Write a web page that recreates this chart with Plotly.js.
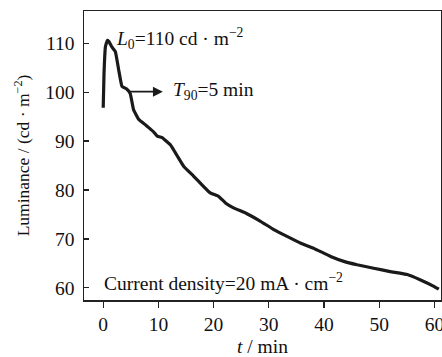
<!DOCTYPE html>
<html>
<head>
<meta charset="utf-8">
<script src="https://cdn.plot.ly/plotly-3.0.1.min.js"></script>
<style>html,body{margin:0;padding:0;background:#fff}#c{width:442px;height:357px}</style>
</head>
<body>
<div id="c"></div>
<script>
const timeMin = [0, 0.15, 0.4, 0.75, 1.0, 1.6, 2.2, 2.8, 3.4, 4.3, 4.9, 5.5, 6.45, 7.7, 8.6, 9.2, 9.8, 10.7, 11.0, 12.2, 13.4, 14.6, 16.4, 18.2, 19.4, 20.9, 22.2, 23.7, 25.8, 28.5, 30.9, 33.3, 35.8, 38.1, 41.2, 43.6, 46.0, 49.0, 52.0, 55.1, 57.5, 59.9, 60.8];
const luminance = [96.8, 104, 109.3, 110.6, 110.4, 109.2, 108.3, 104.6, 101.2, 100.6, 99.7, 96.4, 94.4, 93.3, 92.4, 91.8, 91.0, 90.7, 90.4, 89.2, 87.0, 84.8, 82.8, 80.7, 79.4, 78.7, 77.3, 76.3, 75.3, 73.6, 71.9, 70.5, 69.1, 68.1, 66.4, 65.4, 64.7, 64.0, 63.3, 62.7, 61.6, 60.3, 59.7];
const xTicks = [0, 10, 20, 30, 40, 50, 60];
const yTicks = [60, 70, 80, 90, 100, 110];

const fam = "'Liberation Serif', 'Times New Roman', serif";
const font = {family: fam, size: 19.5, color: '#111'};

Plotly.newPlot('c', [{
  x: timeMin, y: luminance, mode: 'lines', type: 'scatter',
  line: {color: '#1a1a1a', width: 3.2, shape: 'spline', smoothing: 0.3},
  hoverinfo: 'skip'
}], {
  width: 442, height: 357,
  margin: {l: 84, r: 1, t: 11, b: 57},
  paper_bgcolor: '#fff', plot_bgcolor: '#fff',
  font: font,
  showlegend: false,
  xaxis: {
    range: [-3.48, 61.2], tickvals: xTicks, ticks: 'outside', ticklen: 6, tickwidth: 1.3, tickcolor: '#222',
    showgrid: false, zeroline: false, showline: true, linecolor: '#222', linewidth: 1.5, mirror: true,
    tickfont: font, ticklabeloverflow: 'allow',
    title: {text: '<i>t</i> / min', font: font, standoff: 5}
  },
  yaxis: {
    range: [57.5, 116.6], tickvals: yTicks, ticks: 'inside', ticklen: 5, tickwidth: 1.3, tickcolor: '#222',
    showgrid: false, zeroline: false, showline: true, linecolor: '#222', linewidth: 1.5, mirror: true,
    tickfont: font, ticklabelstandoff: 4,
    title: {text: 'Luminance / (cd · m<sup>−2</sup>)', font: {family: fam, size: 17.5, color: '#111'}, standoff: 11}
  },
  annotations: [
    {x: 2.0, y: 110.9, xref: 'x', yref: 'y', xanchor: 'left', yanchor: 'middle', showarrow: false,
     text: '<i>L</i><sub>0</sub>=110 cd · m<sup>−2</sup>', font: font},
    {x: 10.8, y: 100.1, xref: 'x', yref: 'y', ax: 4.35, ay: 100.1, axref: 'x', ayref: 'y',
     showarrow: true, arrowhead: 2, arrowsize: 1.1, arrowwidth: 1.8, arrowcolor: '#1a1a1a', text: ''},
    {x: 12.3, y: 100.3, xref: 'x', yref: 'y', xanchor: 'left', yanchor: 'middle', showarrow: false,
     text: '<i>T</i><sub>90</sub>=5 min', font: font},
    {x: -0.3, y: 61.2, xref: 'x', yref: 'y', xanchor: 'left', yanchor: 'middle', showarrow: false,
     text: 'Current density=20 mA · cm<sup>−2</sup>', font: font}
  ]
}, {staticPlot: true, displayModeBar: false});
</script>
</body>
</html>
